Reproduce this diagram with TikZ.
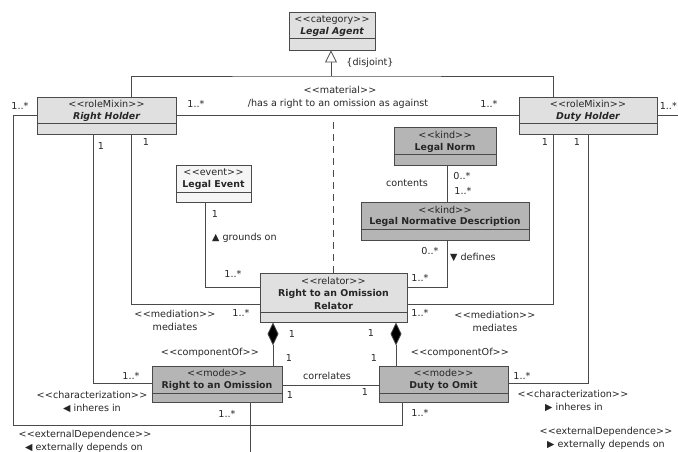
\documentclass[tikz,border=0pt]{standalone}
\usepackage{fontspec}
\setmainfont{DejaVu Sans}
\usetikzlibrary{arrows.meta}
\definecolor{lgray}{HTML}{E0E0E0}
\definecolor{dgray}{HTML}{B5B5B5}
\definecolor{egray}{HTML}{F5F5F5}
\definecolor{lcol}{HTML}{4A4A4A}
\newcommand\st[1]{<\kern0.3pt<#1>\kern0.3pt>}
\begin{document}
\begin{tikzpicture}[x=1pt,y=-1pt,
  cls/.style={draw=lcol,line width=0.9pt,inner sep=0pt},
  conn/.style={draw=lcol,line width=0.8pt},
  lbl/.style={font=\fontsize{9.6}{11}\selectfont,inner sep=0pt,text=black!85},
  ttl/.style={font=\fontsize{9.4}{11}\selectfont\bfseries,inner sep=0pt,text=black!85}]
\useasboundingbox (0,0) rectangle (678,452);
\clip (0,0) rectangle (678,452);
\fill[white] (0,0) rectangle (678,452);
% boxes
\node[cls,fill=lgray,minimum width=86,minimum height=38] (agent) at (332,31) {};
\node[cls,fill=lgray,minimum width=139,minimum height=37] (RH) at (106.5,115.5) {};
\node[cls,fill=lgray,minimum width=138,minimum height=37] (DH) at (588,115.5) {};
\node[cls,fill=egray,minimum width=75,minimum height=37] (LE) at (213.5,183.5) {};
\node[cls,fill=dgray,minimum width=102,minimum height=38] (LN) at (445,146) {};
\node[cls,fill=dgray,minimum width=168,minimum height=38] (LND) at (445,221) {};
\node[cls,fill=lgray,minimum width=147,minimum height=49] (Rel) at (333.5,297.5) {};
\node[cls,fill=dgray,minimum width=130,minimum height=36] (RtO) at (217,384) {};
\node[cls,fill=dgray,minimum width=129,minimum height=36] (DtO) at (443.5,384) {};
% dividers
\draw[cls] (agent.west |- 0,38) -- (agent.east |- 0,38);
\draw[cls] (RH.west |- 0,123) -- (RH.east |- 0,123);
\draw[cls] (DH.west |- 0,123) -- (DH.east |- 0,123);
\draw[cls] (LE.west |- 0,192) -- (LE.east |- 0,192);
\draw[cls] (LN.west |- 0,154) -- (LN.east |- 0,154);
\draw[cls] (LND.west |- 0,229) -- (LND.east |- 0,229);
\draw[cls] (Rel.west |- 0,312) -- (Rel.east |- 0,312);
\draw[cls] (RtO.west |- 0,393) -- (RtO.east |- 0,393);
\draw[cls] (DtO.west |- 0,393) -- (DtO.east |- 0,393);
% box texts
\node[lbl] (agentS) at (332,20) {\st{category}};
\node[ttl] (agentN) at (332,31.5) {\itshape Legal Agent};
\node[lbl] (RHS) at (106.5,104) {\st{roleMixin}};
\node[ttl] (RHN) at (106.5,117) {\itshape Right Holder};
\node[lbl] (DHS) at (588,104) {\st{roleMixin}};
\node[ttl] (DHN) at (588,117) {\itshape Duty Holder};
\node[lbl] (LES) at (213.5,172) {\st{event}};
\node[ttl] (LEN) at (213.5,185) {Legal Event};
\node[lbl] (LNS) at (445,135) {\st{kind}};
\node[ttl] (LNN) at (445,148) {Legal Norm};
\node[lbl] (LNDS) at (445,209.5) {\st{kind}};
\node[ttl] (LNDN) at (445,222) {Legal Normative Description};
\node[lbl] (RelS) at (333.5,281) {\st{relator}};
\node[ttl] (RelN1) at (333.5,293.5) {Right to an Omission};
\node[ttl] (RelN2) at (333.5,306) {Relator};
\node[lbl] (RtOS) at (217,373) {\st{mode}};
\node[ttl] (RtON) at (217,385.5) {Right to an Omission};
\node[lbl] (DtOS) at (443.5,373) {\st{mode}};
\node[ttl] (DtON) at (443.5,385.5) {Duty to Omit};
% generalization
\coordinate (gj) at (331,76);
\draw[conn] (RH.north -| 131,0) |- (gj) -| (DH.north -| 553,0);
\draw[conn,-{Triangle[open,fill=white,width=12pt,length=12pt]}] (gj) -- (agent.south -| 331,0);
\node[lbl] (disj) at (370,63) {\{disjoint\}};
% material
\draw[conn] (RH.east) -- (DH.west);
\draw[conn,dashed,dash pattern=on 7pt off 5pt] (333,122) -- (Rel.north -| 333,0);
\node[lbl] (matS) at (340,90) {\st{material}};
\node[lbl] (matN) at (338,104) {/has a right to an omission as against};
\node[lbl] (m1) at (196,104) {1..*};
\node[lbl] (m2) at (489,104) {1..*};
% external dependence RH -> DtO
\draw[conn] (RH.west) -| (13,425) -| (DtO.south -| 402,0);
\node[lbl] (e1) at (20,106) {1..*};
\node[lbl] (e2) at (420,413) {1..*};
% external dependence DH -> RtO (off page)
\draw[conn] (DH.east) -- (700,115.5);
\draw[conn] (RtO.south -| 250,0) -- (250,470);
\node[lbl,anchor=east] (e3) at (677,106) {1..*};
\node[lbl] (e4) at (227,414) {1..*};
% characterization RH -> RtO
\draw[conn] (RH.south -| 93,0) |- (RtO.west |- 0,383);
\node[lbl] (c1) at (101,146) {1};
\node[lbl] (c2) at (131,376) {1..*};
% mediation RH -> Rel
\draw[conn] (RH.south -| 131,0) |- (Rel.west |- 0,304);
\node[lbl] (md1) at (146,142) {1};
\node[lbl] (md2) at (241,313) {1..*};
\node[lbl] (mdS) at (175,314) {\st{mediation}};
\node[lbl] (mdN) at (175,327) {mediates};
% mediation DH -> Rel
\draw[conn] (DH.south -| 553,0) |- (Rel.east |- 0,304);
\node[lbl] (md3) at (545,142) {1};
\node[lbl] (md4) at (420,313) {1..*};
\node[lbl] (mdS2) at (495,315) {\st{mediation}};
\node[lbl] (mdN2) at (495,328) {mediates};
% characterization DH -> DtO
\draw[conn] (DH.south -| 588,0) |- (DtO.east |- 0,383);
\node[lbl] (c3) at (577,142) {1};
\node[lbl] (c4) at (522,376) {1..*};
\node[lbl] (cS) at (92,395) {\st{characterization}};
\node[lbl] (cN) at (92,408) {◀ inheres in};
\node[lbl] (cS2) at (573,394) {\st{characterization}};
\node[lbl] (cN2) at (574,407) {▶ inheres in};
% grounds on
\draw[conn] (LE.south -| 205,0) |- (Rel.west |- 0,287);
\node[lbl] (g1) at (215,214) {1};
\node[lbl,anchor=west] (gN) at (212,238) {▲ grounds on};
\node[lbl] (g2) at (233,274) {1..*};
% contents
\draw[conn] (LN.south -| 447,0) -- (LND.north -| 447,0);
\node[lbl] (ctN) at (407,183) {contents};
\node[lbl] (ct1) at (462,176) {0..*};
\node[lbl] (ct2) at (463,191) {1..*};
% defines
\draw[conn] (LND.south -| 447,0) |- (Rel.east |- 0,287);
\node[lbl] (d1) at (430,251) {0..*};
\node[lbl,anchor=west] (dN) at (450,257) {▼ defines};
\node[lbl] (d2) at (420,278) {1..*};
% componentOf
\draw[conn,-{Diamond[width=11pt,length=23pt,fill=black]}] (RtO.north -| 273,0) -- (Rel.south -| 273,0);
\draw[conn,-{Diamond[width=11pt,length=23pt,fill=black]}] (DtO.north -| 396,0) -- (Rel.south -| 396,0);
\node[lbl] (p1) at (292,334) {1};
\node[lbl] (p2) at (289,358) {1};
\node[lbl] (pS) at (210,353) {\st{componentOf}};
\node[lbl] (p3) at (371,333) {1};
\node[lbl] (p4) at (374,358) {1};
\node[lbl] (pS2) at (460,353) {\st{componentOf}};
% correlates
\draw[conn] (RtO.east |- 0,385) -- (DtO.west |- 0,385);
\node[lbl] (crN) at (327,376) {correlates};
\node[lbl] (cr1) at (290,395) {1};
\node[lbl] (cr2) at (365,392) {1};
% external dependence labels
\node[lbl] (xS) at (85,435) {\st{externalDependence}};
\node[lbl] (xN) at (84,448) {◀ externally depends on};
\node[lbl] (xS2) at (606,432) {\st{externalDependence}};
\node[lbl] (xN2) at (606,445) {▶ externally depends on};
\end{tikzpicture}
\end{document}
